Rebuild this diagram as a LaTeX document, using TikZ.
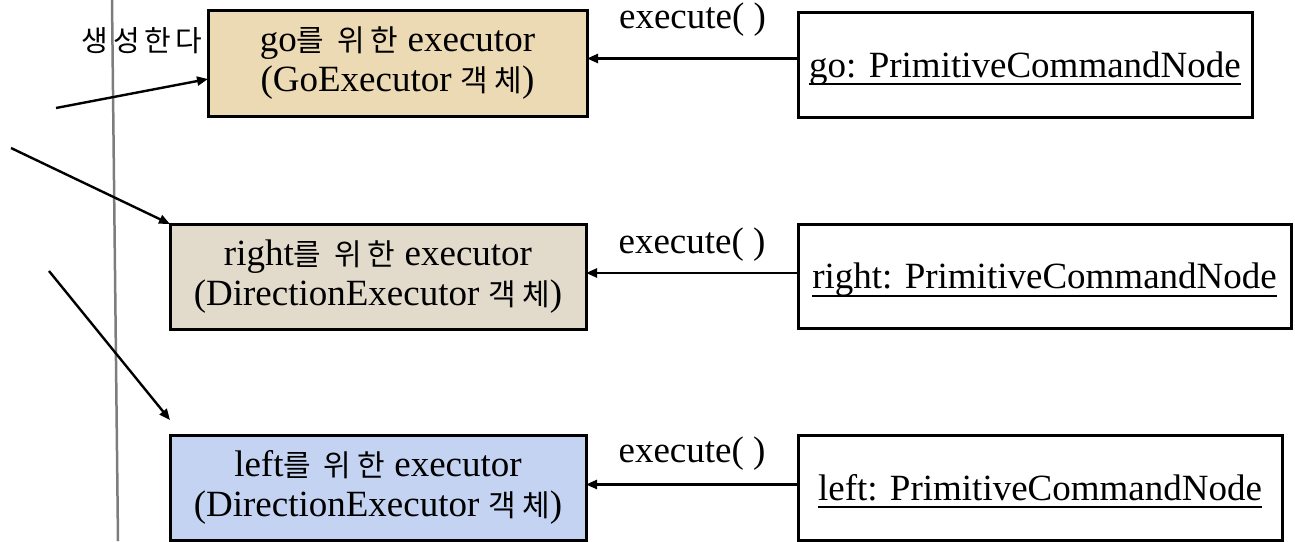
\documentclass[tikz,border=0pt]{standalone}
\usepackage{fontspec}
\setmainfont{Liberation Serif}
\newfontfamily\krfont[LetterSpace=20]{Noto Sans CJK KR}
\newfontfamily\krlabel[LetterSpace=16]{Noto Sans CJK KR}
\usetikzlibrary{arrows.meta,calc}

\definecolor{goFill}{RGB}{236,218,180}
\definecolor{rightFill}{RGB}{226,219,204}
\definecolor{leftFill}{RGB}{196,211,241}
\definecolor{railGray}{RGB}{125,125,125}

% Korean words set inside the serif text
\newcommand\ko[1]{{\krfont\fontsize{30}{40}\selectfont #1}}
% object names: underline at a fixed depth below the baseline
\newcommand\ulword[1]{\sbox0{#1}\rlap{\rule[-8pt]{\wd0}{2pt}}\usebox0}

\tikzset{
  txt/.style={font=\fontsize{37}{40}\selectfont, align=center, inner sep=0pt},
  exbox/.style={draw=black, line width=3pt, inner sep=0pt, outer sep=0pt, anchor=north west},
  cmdbox/.style={exbox, fill=white, font=\fontsize{37}{40}\selectfont,
                 text height=30pt, text depth=5pt},
  msg/.style={-{Triangle[length=11pt,width=9pt]}, line width=2.4pt},
  call/.style={font=\fontsize{37}{40}\selectfont, anchor=base, inner sep=0pt},
}

\begin{document}
\begin{tikzpicture}[x=1pt, y=-1pt]
\useasboundingbox (0,0) rectangle (1295,541);

% lifeline on the left
\coordinate (railTop) at (112,0);
\coordinate (railBot) at (118,541);
\draw[railGray, line width=2.5pt] (railTop) -- (railBot);

% executor objects
\node[exbox, fill=goFill, minimum width=379pt, minimum height=106pt, txt] (l1) at (208,10)
  {go\ko{를 위한} executor\\(GoExecutor \ko{객체})};

\node[exbox, fill=rightFill, minimum width=416pt, minimum height=105pt, txt] (l2) at (170,224)
  {right\ko{를 위한} executor\\(DirectionExecutor \ko{객체})};

\node[exbox, fill=leftFill, minimum width=416pt, minimum height=105pt, txt] (l3) at (170,435)
  {left\ko{를 위한} executor\\(DirectionExecutor \ko{객체})};

% command nodes
\node[cmdbox, minimum width=454pt, minimum height=105pt] (r1) at (798,12) {\ulword{go: PrimitiveCommandNode}};
\node[cmdbox, minimum width=493pt, minimum height=104pt] (r2) at (798,224) {\ulword{right: PrimitiveCommandNode}};
\node[cmdbox, minimum width=484pt, minimum height=105pt] (r3) at (798,435) {\ulword{left: PrimitiveCommandNode}};

% creation messages
\node[font=\krlabel\fontsize{29}{32}\selectfont, inner sep=0pt] (gen) at (142,41) {생성한다};
\coordinate (s1) at (56,108);
\coordinate (s2) at (11,148);
\coordinate (s3) at (49,271);
\draw[msg] (s1) -- ($(l1.west)+(0,16)$);
\draw[msg] (s2) -- (l2.north west);
\draw[msg] (s3) -- ($(l3.north west)+(0,-15)$);

% execute() calls
\coordinate (m1) at ($(r1.west)+(0,-6)$);
\coordinate (n1) at (m1 -| l1.east);
\coordinate (m2) at ($(r2.west)+(0,-3)$);
\coordinate (n2) at (m2 -| l2.east);
\coordinate (m3) at ($(r3.west)+(0,-3)$);
\coordinate (n3) at (m3 -| l3.east);
\draw[msg] (m1) -- (n1);
\draw[msg] (m2) -- (n2);
\draw[msg] (m3) -- (n3);
\node[call] (c1) at ($(m1)!0.5!(n1)+(0,-30)$) {execute( )};
\node[call] (c2) at ($(m2)!0.5!(n2)+(0,-20)$) {execute( )};
\node[call] (c3) at ($(m3)!0.5!(n3)+(0,-22)$) {execute( )};
\end{tikzpicture}
\end{document}
